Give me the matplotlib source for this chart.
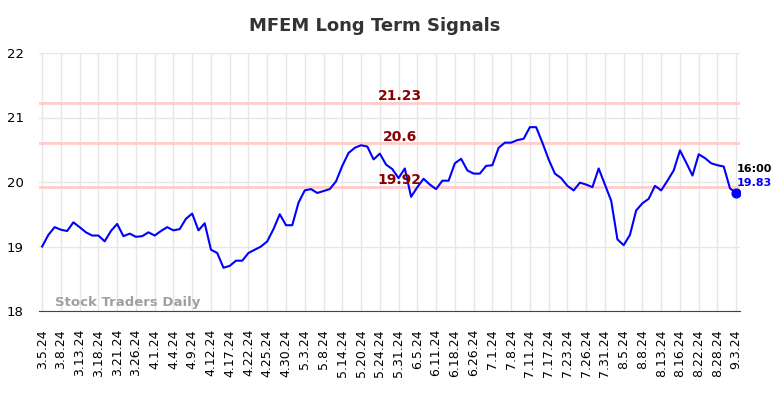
import matplotlib
matplotlib.use("Agg")
import matplotlib.pyplot as plt

title = "MFEM Long Term Signals"
tick_labels = ["3.5.24", "3.8.24", "3.13.24", "3.18.24", "3.21.24", "3.26.24", "4.1.24",
               "4.4.24", "4.9.24", "4.12.24", "4.17.24", "4.22.24", "4.25.24", "4.30.24",
               "5.3.24", "5.8.24", "5.14.24", "5.20.24", "5.24.24", "5.31.24", "6.5.24",
               "6.11.24", "6.18.24", "6.26.24", "7.1.24", "7.8.24", "7.11.24", "7.17.24",
               "7.23.24", "7.26.24", "7.31.24", "8.5.24", "8.8.24", "8.13.24", "8.16.24",
               "8.22.24", "8.28.24", "9.3.24"]
prices = [19.00, 19.18, 19.30, 19.26, 19.24, 19.375, 19.30, 19.22, 19.17, 19.17,
          19.08, 19.24, 19.35, 19.16, 19.20, 19.15, 19.16, 19.22, 19.17, 19.24,
          19.30, 19.25, 19.27, 19.43, 19.51, 19.25, 19.36, 18.95, 18.90, 18.67,
          18.70, 18.78, 18.78, 18.90, 18.95, 19.00, 19.08, 19.27, 19.50, 19.33,
          19.33, 19.68, 19.87, 19.89, 19.83, 19.86, 19.89, 20.01, 20.25, 20.45,
          20.53, 20.57, 20.55, 20.35, 20.44, 20.27, 20.20, 20.06, 20.21, 19.77,
          19.92, 20.05, 19.96, 19.89, 20.02, 20.02, 20.29, 20.36, 20.18, 20.13,
          20.13, 20.25, 20.26, 20.53, 20.61, 20.61, 20.65, 20.67, 20.85, 20.85,
          20.61, 20.35, 20.13, 20.06, 19.94, 19.87, 19.99, 19.96, 19.92, 20.21,
          19.96, 19.71, 19.11, 19.02, 19.18, 19.56, 19.67, 19.74, 19.94, 19.87,
          20.02, 20.18, 20.49, 20.30, 20.10, 20.43, 20.37, 20.29, 20.26, 20.24,
          19.90, 19.83]
signal_levels = [21.23, 20.6, 19.92]
signal_labels = ["21.23", "20.6", "19.92"]
last_time = "16:00"
last_value = "19.83"
watermark = "Stock Traders Daily"

fig = plt.figure(figsize=(7.84, 3.98), dpi=100)
ax = fig.add_axes([39/784, 1-311/398, 701/784, 258/398])

x = list(range(len(prices)))
step = 3
ticks = list(range(0, len(prices), step))

for lvl in signal_levels:
    ax.axhline(lvl, color="#ffcccc", lw=2, zorder=1)

ax.plot(x, prices, color="#0000ff", lw=1.5, zorder=3)
ax.scatter([x[-1]], [prices[-1]], s=40, color="#0000ff", zorder=4)

label_x = 57.2
for lvl, lab in zip(signal_levels, signal_labels):
    ax.text(label_x, lvl + 0.105, lab, color="#8b0000", fontsize=10, fontweight="bold",
            ha="center", va="center", zorder=5)

ax.text(x[-1], prices[-1] + 0.375, last_time, color="black", fontsize=8,
        fontweight="bold", ha="left", va="center", zorder=5)
ax.text(x[-1], prices[-1] + 0.155, last_value, color="#0000ff", fontsize=8,
        fontweight="bold", ha="left", va="center", zorder=5)

ax.text(2, 18.13, watermark, color="#a0a0a0", fontsize=9.5, fontweight="bold",
        ha="left", va="center", zorder=2)

ax.set_xlim(-0.5, len(prices) - 0.4)
ax.set_ylim(18, 22)
ax.set_yticks([18, 19, 20, 21, 22])
ax.set_xticks(ticks)
ax.set_xticklabels(tick_labels, rotation=90, fontsize=9)
ax.tick_params(axis="y", labelsize=9.5, length=0, pad=11)
ax.tick_params(axis="x", length=0, pad=13)
ax.grid(True, color="#e6e6e6", lw=1)
ax.set_axisbelow(True)
for s in ["left", "right", "top"]:
    ax.spines[s].set_visible(False)
ax.spines["bottom"].set_color("#444444")

fig.suptitle(title, x=375/784, y=1-26/398, fontsize=13, fontweight="bold",
             color="#333333", va="center")

fig.savefig("out.png", dpi=100)
